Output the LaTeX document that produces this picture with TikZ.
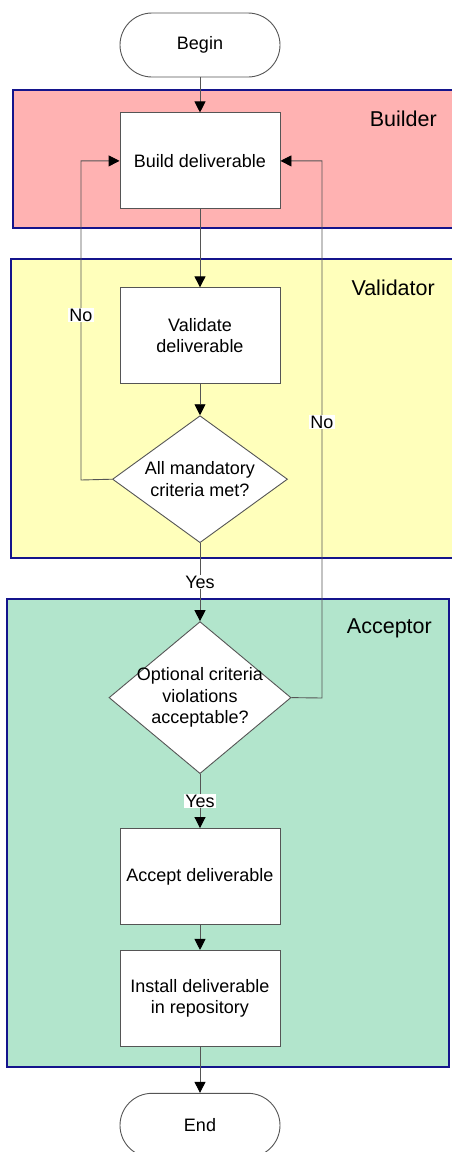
\documentclass[tikz,border=0pt]{standalone}
\usepackage{fontspec}
\setmainfont{Liberation Sans}
\usepackage{tikz}
\usetikzlibrary{positioning, shapes.geometric, arrows.meta}
\definecolor{laneBorder}{RGB}{20,20,140}
\definecolor{builderPink}{RGB}{255,178,178}
\definecolor{validatorYellow}{RGB}{255,255,187}
\definecolor{acceptorGreen}{RGB}{178,229,204}
\definecolor{lineGray}{RGB}{85,85,85}

\begin{document}
\begin{tikzpicture}[x=1pt, y=-1pt, node distance=35pt,
	font=\fontsize{18}{21.5}\selectfont,
	box/.style={draw=lineGray, fill=white, line width=0.9pt, minimum width=160pt, minimum height=96pt, align=center, inner sep=2pt},
	terminal/.style={draw=lineGray, fill=white, line width=0.9pt, rounded corners=32pt, minimum width=160pt, minimum height=64pt},
	decision/.style={draw=lineGray, fill=white, line width=0.9pt, diamond, align=center, inner sep=-6pt},
	lane/.style={draw=laneBorder, line width=1.5pt},
	lanename/.style={anchor=east, inner sep=0pt, font=\fontsize{21.5}{25}\selectfont},
	flow/.style={draw=lineGray, line width=0.9pt, -{Triangle[length=11pt, width=11pt, black]}},
	tag/.style={fill=white, inner sep=1pt}]
	\useasboundingbox (0,0) rectangle (451,1152);
	% swimlanes
	\draw[lane, fill=builderPink] (13,90) rectangle (470,228);
	\draw[lane, fill=validatorYellow] (11,259) rectangle (470,558);
	\draw[lane, fill=acceptorGreen] (7,599) rectangle (449,1067);
	\node[lanename] (builderlabel) at (437,119) {Builder};
	\node[lanename] (validatorlabel) at (435,288) {Validator};
	\node[lanename] (acceptorlabel) at (432,628) {Acceptor};
	% steps
	\node[terminal] (begin) at (200,45) {Begin};
	\node[box, below=35pt of begin] (build) {Build deliverable};
	\node[box, below=78pt of build] (validate) {Validate\\deliverable};
	\node[decision, aspect=1.38, minimum width=175pt, minimum height=127pt, below=31pt of validate] (mandatory) {All mandatory\\criteria met?};
	\node[decision, aspect=1.2, minimum width=182pt, minimum height=152pt, below=78pt of mandatory] (optional) {Optional criteria\\violations\\acceptable?};
	\node[box, below=54pt of optional] (accept) {Accept deliverable};
	\node[box, below=25pt of accept] (install) {Install deliverable\\in repository};
	\node[terminal, below=46pt of install] (end) {End};
	% flow
	\draw[flow] (begin) -- (build);
	\draw[flow] (build) -- (validate);
	\draw[flow] (validate) -- (mandatory);
	\draw[flow] (mandatory) -- node[tag] (yesmandatory) {Yes} (optional);
	\draw[flow] (optional) -- node[tag] (yesoptional) {Yes} (accept);
	\draw[flow] (accept) -- (install);
	\draw[flow] (install) -- (end);
	% loops back to the builder
	\coordinate (leftturn) at (81,480);
	\draw[flow] (mandatory.west) -- (leftturn) |- (build.west);
	\node[tag] (nomandatory) at (81,315) {No};
	\coordinate (rightturn) at (322,698);
	\draw[flow] (optional.east) -- (rightturn) |- (build.east);
	\node[tag] (nooptional) at (322,422) {No};
\end{tikzpicture}
\end{document}
